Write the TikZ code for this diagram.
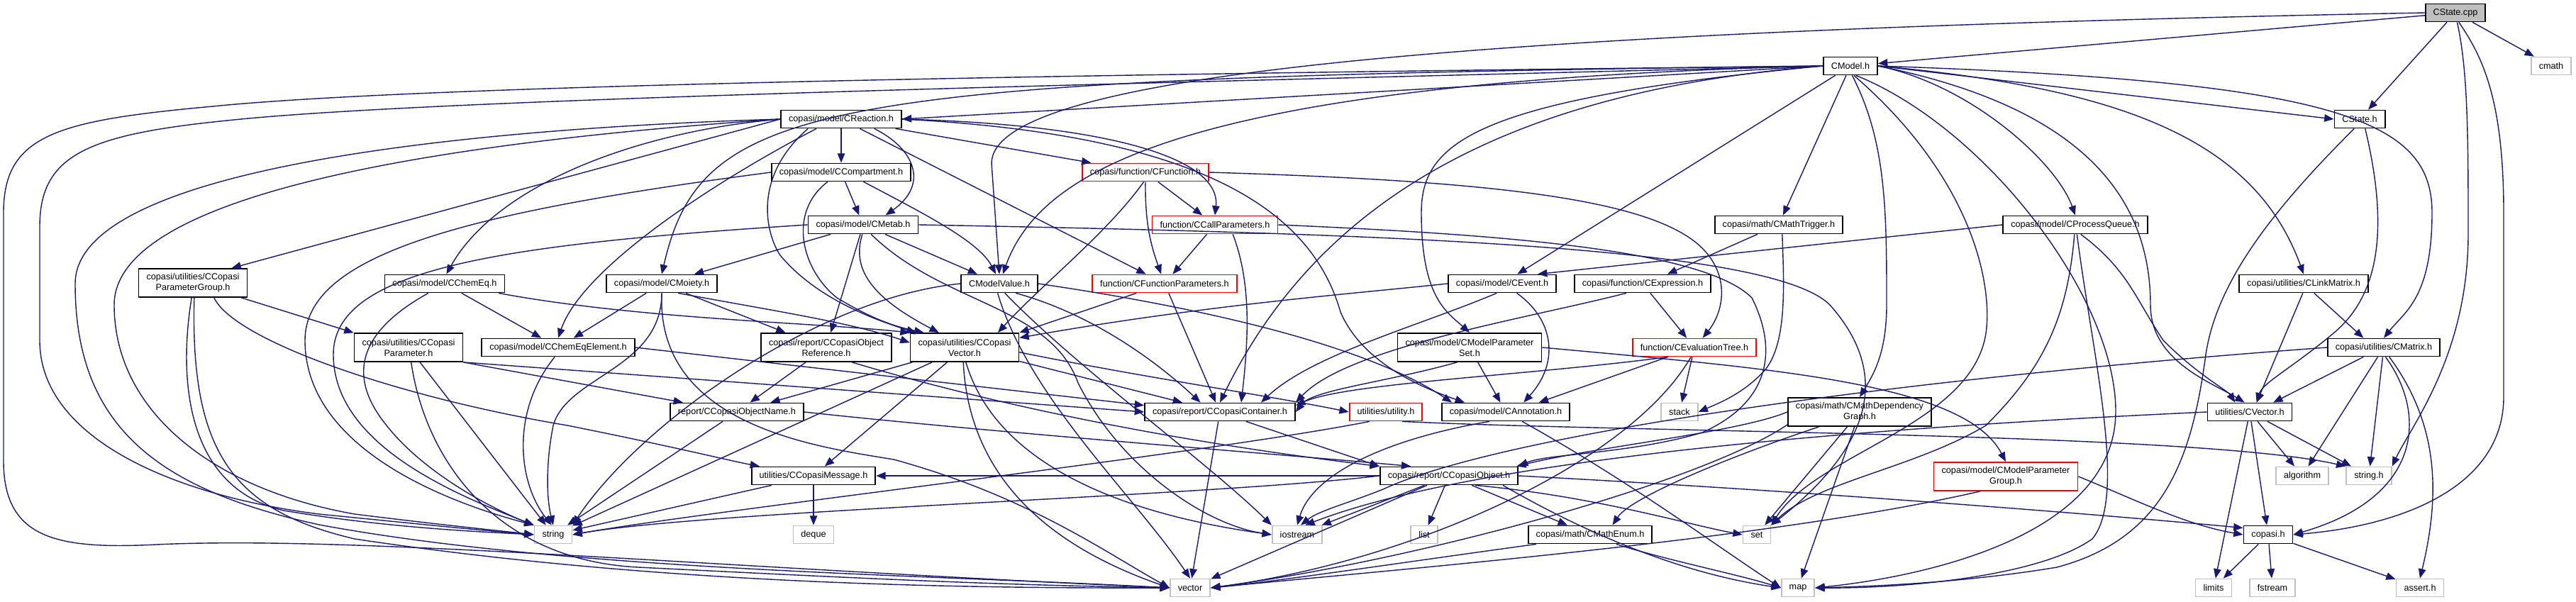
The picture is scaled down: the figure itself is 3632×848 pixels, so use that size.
\documentclass[tikz,border=0pt]{standalone}
\usepackage{fontspec}
\setmainfont{Liberation Sans}
\usetikzlibrary{arrows.meta}
\definecolor{inclblue}{HTML}{191970}
\definecolor{sysgray}{HTML}{BFBFBF}
\definecolor{rootgray}{HTML}{BFBFBF}
\tikzstyle{hfile}   = [rectangle, draw=black, line width=0.5pt, fill=white,
                       inner xsep=0.11cm, inner ysep=0pt, minimum height=0.25cm, align=center]
\tikzstyle{hfile2}  = [hfile, minimum height=0.4cm]
\tikzstyle{redfile} = [hfile, draw=red]
\tikzstyle{redfile2}= [hfile2, draw=red]
\tikzstyle{sysfile} = [hfile, draw=sysgray]
\tikzstyle{rootfile}= [hfile, fill=rootgray]
\tikzstyle{incl}    = [draw=inclblue, line width=0.4pt, -{Triangle[length=3.8pt,width=3pt]}]

\begin{document}
\begin{tikzpicture}[x=0.01cm, y=-0.01cm,
    every node/.style={font=\fontsize{3.6pt}{4.27pt}\selectfont}]
  \useasboundingbox (0,0) rectangle (3632,848);

  % --- rank 0 and 1 ---
  \node (cstatecpp) [rootfile] at (3462,18)  {CState.cpp};
  \node (cmodel)    [hfile]    at (2609,93)  {CModel.h};
  \node (cmath)     [sysfile]  at (3597,93)  {cmath};

  % --- rank 2 to 4 ---
  \node (creaction)     [hfile]   at (1186,168) {copasi/model/CReaction.h};
  \node (cstateh)       [hfile]   at (3327,168) {CState.h};
  \node (ccompartment)  [hfile]   at (1186,243) {copasi/model/CCompartment.h};
  \node (cfunction)     [redfile] at (1615,243) {copasi/function/CFunction.h};
  \node (cmetab)        [hfile]   at (1217,317) {copasi/model/CMetab.h};
  \node (ccallparams)   [redfile] at (1713,317) {function/CCallParameters.h};
  \node (cmathtrigger)  [hfile]   at (2508,317) {copasi/math/CMathTrigger.h};
  \node (cprocessqueue) [hfile]   at (2926,317) {copasi/model/CProcessQueue.h};

  % --- rank 5 ---
  \node (cparamgroup)     [hfile2]  at (272,399)  {copasi/utilities/CCopasi\\ParameterGroup.h};
  \node (cchemeq)         [hfile]   at (627,400)  {copasi/model/CChemEq.h};
  \node (cmoiety)         [hfile]   at (933,400)  {copasi/model/CMoiety.h};
  \node (cmodelvalue)     [hfile]   at (1409,400) {CModelValue.h};
  \node (cfunctionparams) [redfile] at (1642,400) {function/CFunctionParameters.h};
  \node (cevent)          [hfile]   at (2118,400) {copasi/model/CEvent.h};
  \node (cexpression)     [hfile]   at (2316,400) {copasi/function/CExpression.h};
  \node (clinkmatrix)     [hfile]   at (3248,400) {copasi/utilities/CLinkMatrix.h};

  % --- rank 6 ---
  \node (cparameter)    [hfile2]   at (576,490)  {copasi/utilities/CCopasi\\Parameter.h};
  \node (cchemeqelem)   [hfile]    at (787,490)  {copasi/model/CChemEqElement.h};
  \node (cobjref)       [hfile2]   at (1165,490) {copasi/report/CCopasiObject\\Reference.h};
  \node (ccopasivector) [hfile2]   at (1360,490) {copasi/utilities/CCopasi\\Vector.h};
  \node (cparamset)     [hfile2]   at (2072,490) {copasi/model/CModelParameter\\Set.h};
  \node (cevaltree)     [redfile]  at (2389,490) {function/CEvaluationTree.h};
  \node (cmatrix)       [hfile]    at (3361,490) {copasi/utilities/CMatrix.h};

  % --- rank 7 ---
  \node (cobjname)     [hfile]   at (1039,581) {report/CCopasiObjectName.h};
  \node (ccontainer)   [hfile]   at (1720,581) {copasi/report/CCopasiContainer.h};
  \node (utility)      [redfile] at (1954,581) {utilities/utility.h};
  \node (cannotation)  [hfile]   at (2123,581) {copasi/model/CAnnotation.h};
  \node (stack)        [sysfile] at (2368,581) {stack};
  \node (cmathdepgraph)[hfile2]  at (2622,581) {copasi/math/CMathDependency\\Graph.h};
  \node (cvector)      [hfile]   at (3172,581) {utilities/CVector.h};

  % --- rank 8 ---
  \node (cmessage)     [hfile]    at (1147,671) {utilities/CCopasiMessage.h};
  \node (cobject)      [hfile]    at (2043,671) {copasi/report/CCopasiObject.h};
  \node (cparamgroupm) [redfile2] at (2828,672) {copasi/model/CModelParameter\\Group.h};
  \node (algorithm)    [sysfile]  at (3246,671) {algorithm};
  \node (stringh)      [sysfile]  at (3340,671) {string.h};

  % --- rank 9 and 10 ---
  \node (string)    [sysfile] at (780,754)  {string};
  \node (deque)     [sysfile] at (1147,754) {deque};
  \node (iostream)  [sysfile] at (1829,754) {iostream};
  \node (list)      [sysfile] at (2008,754) {list};
  \node (cmathenum) [hfile]   at (2242,754) {copasi/math/CMathEnum.h};
  \node (set)       [sysfile] at (2477,754) {set};
  \node (copasih)   [hfile]   at (3198,754) {copasi.h};
  \node (vector)    [sysfile] at (1678,829) {vector};
  \node (map)       [sysfile] at (2535,829) {map};
  \node (limits)    [sysfile] at (3121,829) {limits};
  \node (fstream)   [sysfile] at (3204,829) {fstream};
  \node (asserth)   [sysfile] at (3412,829) {assert.h};

  % CState.cpp
  \draw[incl] (cstatecpp) -- (cmodel);
  \draw[incl] (cstatecpp) -- (cmath);
  \draw[incl] (cstatecpp) -- (cstateh);
  \draw[incl] (cstatecpp.west) .. controls (2000,45) and (1400,110) .. (1398,230) -- (cmodelvalue.north);
  \draw[incl] (cstatecpp.-80) .. controls (3480,100) and (3480,200) .. (3480,330)
              .. controls (3480,500) and (3400,600) .. (stringh.north east);
  \draw[incl] (cstatecpp.-70) .. controls (3500,80) and (3530,140) .. (3530,300) -- (3530,560)
              .. controls (3530,680) and (3400,740) .. (copasih.east);

  % CModel.h
  \draw[incl] (cmodel.west) -- (creaction.east);
  \draw[incl] (cmodel.west) .. controls (1150,110) and (990,140) .. (cmoiety.north);
  \draw[incl] (cmodel.west) .. controls (1700,115) and (1470,230) .. (cmodelvalue.70);
  \draw[incl] (cmodel) -- (cevent);
  \draw[incl] (cmodel) -- (cmathtrigger);
  \draw[incl] (cmodel.-80) .. controls (2660,200) and (2660,300) .. (2660,430)
              .. controls (2660,500) and (2640,530) .. (cmathdepgraph.north);
  \draw[incl] (cmodel.-70) .. controls (2780,250) and (2810,400) .. (2800,470)
              .. controls (2780,600) and (2560,640) .. (set.north east);
  \draw[incl] (cmodel.-60) .. controls (2800,180) and (2983,420) .. (2983,580)
              .. controls (2983,760) and (2700,815) .. (map.east);
  \draw[incl] (cmodel.east) .. controls (2780,120) and (2900,230) .. (cprocessqueue.north);
  \draw[incl] (cmodel.east) .. controls (2880,140) and (3032,240) .. (3032,430)
              .. controls (3032,510) and (3120,540) .. (cvector.119);
  \draw[incl] (cmodel.east) -- (cstateh.west);
  \draw[incl] (cmodel.east) .. controls (3000,125) and (3180,200) .. (clinkmatrix.north);
  \draw[incl] (cmodel.east) .. controls (3300,115) and (3429,170) .. (3429,300)
              .. controls (3429,420) and (3390,440) .. (cmatrix.north);
  \draw[incl] (cmodel.west) .. controls (2100,130) and (1850,300) .. (ccontainer.north);
  \draw[incl] (cmodel.west) .. controls (2080,140) and (2004,200) .. (2004,300)
              .. controls (2004,420) and (2040,440) .. (cparamset.north);
  \draw[incl] (cmodel.west) .. controls (1500,105) and (600,120) .. (300,150)
              .. controls (80,170) and (5,190) .. (5,300) -- (5,650)
              .. controls (5,760) and (80,775) .. (220,768)
              .. controls (500,755) and (1000,800) .. (vector.west);
  \draw[incl] (cmodel.west) .. controls (1500,120) and (600,140) .. (320,170)
              .. controls (120,190) and (56,220) .. (56,320) -- (56,480)
              .. controls (56,620) and (250,700) .. (450,725)
              .. controls (600,740) and (680,748) .. (string.west);

  % CReaction.h
  \draw[incl] (creaction) -- (ccompartment);
  \draw[incl] (creaction) -- (cfunction);
  \draw[incl] (creaction.-16) .. controls (1290,210) and (1310,260) .. (cmetab.23);
  \draw[incl] (creaction.east) .. controls (1550,175) and (1722,220) .. (ccallparams.north);
  \draw[incl] (creaction) -- (cfunctionparams);
  \draw[incl] (creaction.west) .. controls (900,185) and (700,260) .. (cchemeq.80);
  \draw[incl] (creaction.west) -- (cparamgroup.21);
  \draw[incl] (creaction.-159) .. controls (1000,260) and (820,380) .. (cchemeqelem.north);
  \draw[incl] (creaction.east) .. controls (1700,190) and (1850,300) .. (1890,440)
              .. controls (1920,510) and (2000,545) .. (cannotation.167);
  \draw[incl] (creaction.-164) .. controls (1060,250) and (1080,330) .. (1100,360)
              .. controls (1150,420) and (1230,450) .. (ccopasivector.163);
  \draw[incl] (creaction.west) .. controls (700,180) and (106,230) .. (106,400)
              .. controls (106,600) and (220,690) .. (450,740)
              .. controls (800,805) and (1300,810) .. (vector.west);
  \draw[incl] (creaction.west) .. controls (700,195) and (161,260) .. (161,430)
              .. controls (161,580) and (300,690) .. (500,725)
              .. controls (620,740) and (700,748) .. (string.west);

  % CCompartment.h and CMetab.h
  \draw[incl] (ccompartment) -- (cmetab);
  \draw[incl] (ccompartment.-23) .. controls (1300,300) and (1380,340) .. (cmodelvalue.110);
  \draw[incl] (ccompartment.west) .. controls (650,300) and (430,360) .. (430,480)
              .. controls (430,620) and (600,700) .. (string.north west);
  \draw[incl] (ccompartment.-145) .. controls (1110,300) and (1130,380) .. (1180,420)
              .. controls (1230,450) and (1260,460) .. (ccopasivector.160);
  \draw[incl] (cmetab) -- (cmodelvalue);
  \draw[incl] (cmetab) -- (cmoiety);
  \draw[incl] (cmetab) -- (cobjref);
  \draw[incl] (cmetab.west) .. controls (700,345) and (470,380) .. (470,500)
              .. controls (470,630) and (650,700) .. (string.north west);
  \draw[incl] (cmetab.-95) .. controls (1200,380) and (1230,420) .. (ccopasivector.150);
  \draw[incl] (cmetab.-50) .. controls (1330,430) and (1480,430) .. (1520,540)
              .. controls (1580,660) and (1700,740) .. (iostream.west);
  \draw[incl] (cmetab.east) .. controls (2000,330) and (2500,350) .. (2580,430)
              .. controls (2660,520) and (2650,620) .. (set.north east);

  % function headers
  \draw[incl] (cfunction) -- (ccallparams);
  \draw[incl] (cfunction) to[bend right=10] (cfunctionparams);
  \draw[incl] (cfunction.-100) .. controls (1560,330) and (1470,400) .. (ccopasivector.24);
  \draw[incl] (cfunction.east) .. controls (2100,255) and (2330,280) .. (2400,350)
              .. controls (2440,390) and (2430,440) .. (cevaltree.49);
  \draw[incl] (ccallparams) -- (cfunctionparams);
  \draw[incl] (ccallparams.-28) .. controls (1765,400) and (1760,480) .. (ccontainer.24);
  \draw[incl] (ccallparams.east) .. controls (2100,330) and (2400,350) .. (2470,420)
              .. controls (2510,500) and (2490,570) .. (2400,610)
              .. controls (2300,640) and (2180,640) .. (cobject.north east);
  \draw[incl] (cfunctionparams) -- (ccopasivector.north east);
  \draw[incl] (cfunctionparams) -- (ccontainer);
  \draw[incl] (cexpression) -- (cevaltree);
  \draw[incl] (cexpression.-150) .. controls (2150,450) and (1900,490) .. (ccontainer.north east);

  % rank 5 headers
  \draw[incl] (cparamgroup.-17) -- (cparameter.165);
  \draw[incl] (cparamgroup.-35) .. controls (330,480) and (560,560) .. (800,600)
              .. controls (950,630) and (1030,650) .. (cmessage.170);
  \draw[incl] (cparamgroup.-95) .. controls (249,550) and (270,690) .. (400,720)
              .. controls (550,745) and (680,750) .. (string.west);
  \draw[incl] (cparamgroup.-85) .. controls (268,640) and (330,720) .. (500,760)
              .. controls (900,820) and (1300,830) .. (vector.west);
  \draw[incl] (cchemeq) -- (cchemeqelem);
  \draw[incl] (cchemeq.-10) .. controls (900,450) and (1150,455) .. (ccopasivector.north west);
  \draw[incl] (cchemeq.-150) .. controls (520,460) and (480,520) .. (545,600)
              .. controls (600,670) and (700,720) .. (string.north west);
  \draw[incl] (cmoiety) -- (cchemeqelem);
  \draw[incl] (cmoiety) -- (cobjref.160);
  \draw[incl] (cmoiety.-30) .. controls (1100,440) and (1200,455) .. (ccopasivector.175);
  \draw[incl] (cmoiety.south) .. controls (933,520) and (800,530) .. (780,600)
              .. controls (770,650) and (770,700) .. (string.north);
  \draw[incl] (cmoiety.south) .. controls (925,600) and (1150,630) .. (1260,648)
              .. controls (1450,700) and (1560,780) .. (vector.west);
  \draw[incl] (cmodelvalue.west) .. controls (1150,420) and (900,600) .. (string.north east);
  \draw[incl] (cmodelvalue.-100) .. controls (1450,560) and (1600,700) .. (vector.north);
  \draw[incl] (cmodelvalue.-60) .. controls (1520,520) and (1700,650) .. (iostream.north west);
  \draw[incl] (cmodelvalue.-30) .. controls (1530,440) and (1620,500) .. (ccontainer.154);
  \draw[incl] (cmodelvalue.east) .. controls (1600,420) and (1900,470) .. (cannotation.170);
  \draw[incl] (cevent.west) .. controls (1900,415) and (1700,430) .. (ccopasivector.10);
  \draw[incl] (cevent.-120) .. controls (2000,460) and (1850,500) .. (ccontainer.13);
  \draw[incl] (cevent.-33) .. controls (2190,450) and (2200,510) .. (cannotation.28);
  \draw[incl] (cprocessqueue.west) -- (cevent.15);
  \draw[incl] (cprocessqueue.-95) .. controls (2915,450) and (2880,520) .. (2800,600)
              .. controls (2700,660) and (2560,680) .. (set.north east);
  \draw[incl] (cprocessqueue.-80) .. controls (2950,500) and (3000,700) .. (2950,760)
              .. controls (2880,810) and (2700,830) .. (map.east);
  \draw[incl] (cprocessqueue.-60) .. controls (3000,380) and (3010,420) .. (3050,480)
              .. controls (3100,530) and (3140,550) .. (cvector.147);
  \draw[incl] (cmathtrigger) -- (cexpression.21);
  \draw[incl] (cmathtrigger.-70) .. controls (2515,400) and (2520,480) .. (2490,520)
              .. controls (2460,555) and (2420,570) .. (stack.east);
  \draw[incl] (clinkmatrix.-95) -- (cvector.54);
  \draw[incl] (clinkmatrix) -- (cmatrix.155);

  % rank 6 headers
  \draw[incl] (cparameter.south east) -- (cobjname.170);
  \draw[incl] (cparameter.south east) -- (ccontainer.west);
  \draw[incl] (cparameter) -- (string);
  \draw[incl] (cparameter.-80) .. controls (600,650) and (700,790) .. (900,800)
              .. controls (1200,815) and (1400,825) .. (vector.west);
  \draw[incl] (cchemeqelem.-110) .. controls (720,580) and (730,680) .. (string.100);
  \draw[incl] (cchemeqelem.east) -- (ccontainer.175);
  \draw[incl] (cobjref) -- (cobjname);
  \draw[incl] (cobjref.-30) .. controls (1500,600) and (1800,640) .. (cobject.north west);
  \draw[incl] (ccopasivector) -- (cobjname);
  \draw[incl] (ccopasivector) -- (ccontainer);
  \draw[incl] (ccopasivector) -- (cmessage);
  \draw[incl] (ccopasivector.-5) .. controls (1600,530) and (1800,560) .. (utility.west);
  \draw[incl] (ccopasivector) -- (string);
  \draw[incl] (ccopasivector.-95) .. controls (1365,650) and (1450,760) .. (vector.west);
  \draw[incl] (ccopasivector.-85) .. controls (1400,640) and (1550,720) .. (iostream.west);
  \draw[incl] (cparamset) -- (cannotation);
  \draw[incl] (cparamset.-130) .. controls (1950,540) and (1850,550) .. (ccontainer.east);
  \draw[incl] (cparamset.east) .. controls (2500,520) and (2770,540) .. (cparamgroupm.north);
  \draw[incl] (cevaltree) -- (stack);
  \draw[incl] (cevaltree) -- (cannotation.16);
  \draw[incl] (cevaltree.-160) .. controls (2150,530) and (1900,540) .. (ccontainer.5);
  \draw[incl] (cevaltree.-110) .. controls (2300,650) and (2000,790) .. (vector.east);
  \draw[incl] (cmatrix.-155) -- (cvector.22);
  \draw[incl] (cmatrix) -- (algorithm);
  \draw[incl] (cmatrix) -- (stringh);
  \draw[incl] (cmatrix.-80) .. controls (3420,580) and (3420,700) .. (copasih.east);
  \draw[incl] (cmatrix.-60) .. controls (3440,600) and (3440,700) .. (asserth.north);
  \draw[incl] (cmatrix.west) .. controls (2600,540) and (2100,620) .. (1950,690)
              .. controls (1900,710) and (1860,720) .. (iostream.70);

  % rank 7 headers
  \draw[incl] (cobjname) -- (string);
  \draw[incl] (cobjname.east) .. controls (1400,610) and (1800,640) .. (cobject.166);
  \draw[incl] (ccontainer.-20) -- (cobject.north west);
  \draw[incl] (ccontainer) -- (vector);
  \draw[incl] (utility.-150) .. controls (1700,640) and (1000,720) .. (string.east);
  \draw[incl] (utility.-30) .. controls (2300,610) and (3100,610) .. (stringh.north west);
  \draw[incl] (cannotation.-150) .. controls (1950,620) and (1850,670) .. (iostream.north);
  \draw[incl] (cannotation.-30) .. controls (2300,680) and (2420,770) .. (map.west);
  \draw[incl] (cmathdepgraph) -- (set);
  \draw[incl] (cmathdepgraph) -- (map);
  \draw[incl] (cmathdepgraph.-160) .. controls (2450,640) and (2300,700) .. (cmathenum.23);
  \draw[incl] (cmathdepgraph.west) .. controls (2450,610) and (2250,630) .. (cobject.8);
  \draw[incl] (cmathdepgraph.-170) .. controls (2400,680) and (2000,790) .. (vector.east);
  \draw[incl] (cvector) -- (limits);
  \draw[incl] (cvector) -- (copasih);
  \draw[incl] (cvector) -- (algorithm);
  \draw[incl] (cvector) -- (stringh);
  \draw[incl] (cvector.west) .. controls (2700,600) and (2100,640) .. (iostream.50);

  % rank 8 headers
  \draw[incl] (cmessage) -- (deque);
  \draw[incl] (cmessage) -- (string);
  \draw[incl] (cobject.west) -- (cmessage.east);
  \draw[incl] (cobject) -- (list);
  \draw[incl] (cobject) -- (iostream);
  \draw[incl] (cobject) -- (cmathenum);
  \draw[incl] (cobject.west) .. controls (1700,700) and (1000,720) .. (string.east);
  \draw[incl] (cobject) -- (vector);
  \draw[incl] (cobject.-20) .. controls (2250,700) and (2380,740) .. (set.west);
  \draw[incl] (cobject.-10) .. controls (2250,760) and (2380,810) .. (map.west);
  \draw[incl] (cobject.east) .. controls (2500,690) and (2900,720) .. (copasih.165);
  \draw[incl] (cparamgroupm.east) .. controls (3000,700) and (3080,740) .. (copasih.west);
  \draw[incl] (cparamgroupm.-150) .. controls (2500,760) and (2000,800) .. (vector.east);
  \draw[incl] (cmathenum.-170) .. controls (2000,790) and (1800,820) .. (vector.east);
  \draw[incl] (cmathenum.-20) .. controls (2350,790) and (2450,810) .. (map.west);

  % CState.h and copasi.h
  \draw[incl] (cstateh.-60) .. controls (3371,333) and (3350,420) .. (3290,470)
              .. controls (3230,520) and (3190,540) .. (cvector.54);
  \draw[incl] (cstateh.-120) .. controls (3200,300) and (3125,400) .. (3110,500)
              .. controls (3090,650) and (3050,760) .. (2900,800)
              .. controls (2750,825) and (2600,828) .. (map.east);
  \draw[incl] (copasih) -- (limits);
  \draw[incl] (copasih) -- (fstream);
  \draw[incl] (copasih) -- (asserth);

\end{tikzpicture}
\end{document}
